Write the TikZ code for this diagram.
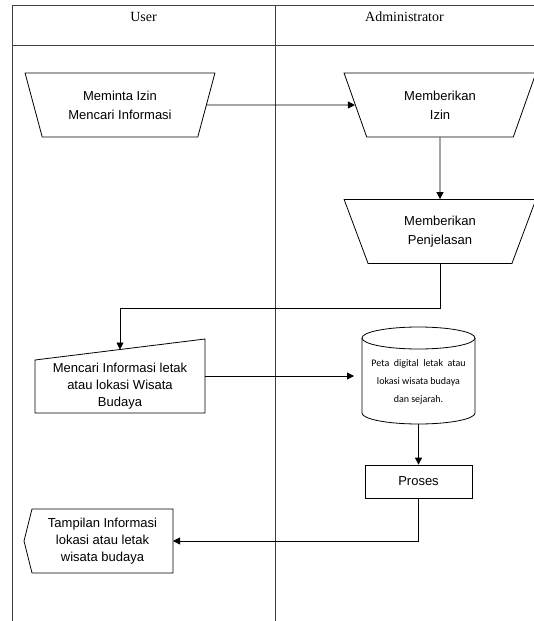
\documentclass[tikz,border=0pt]{standalone}
\usepackage{fontspec}
\setmainfont{Liberation Serif}
\newfontfamily\arialfont{Liberation Sans}
\newfontfamily\calfont{Carlito}
\usetikzlibrary{shapes.geometric, arrows.meta, calc}

\begin{document}
\begin{tikzpicture}[x=1pt, y=-1pt,
    lane/.style={draw=black!75, line width=0.8pt},
    lanetitle/.style={font=\fontsize{14}{16}\selectfont},
    flowtext/.style={font=\arialfont\fontsize{13}{17}\selectfont, align=center},
    flowline/.style={line width=0.8pt},
    flowarrow/.style={flowline, -{Triangle[length=7pt, width=7pt]}},
    manualop/.style={flowtext, draw, flowline, trapezium, shape border rotate=180,
        trapezium stretches=true, trapezium left angle=71, trapezium right angle=71,
        minimum width=190pt, minimum height=64pt, font=\arialfont\fontsize{13}{19}\selectfont},
    shapebox/.style={inner sep=0pt, outer sep=0pt},
    procbox/.style={flowtext, draw, flowline, minimum width=107pt, minimum height=33pt}]
    \useasboundingbox (0,0) rectangle (534,621);
    % swimlanes
    \draw[lane] (12,621) -- (12,5) -- (540,5);
    \draw[lane] (12,45) -- (540,45);
    \draw[lane] (275,5) -- (275,621);
    \node[lanetitle] (userLane) at (143.5,17) {User};
    \node[lanetitle] (adminLane) at (404.5,17) {Administrator};

    \node[manualop] (izinUser) at (120,105) {Meminta Izin\\Mencari Informasi};
    \node[manualop, minimum width=192pt] (izinAdmin) at (440,105) {Memberikan\\Izin};
    \node[manualop, minimum width=192pt] (jelas) at (440,231.5) {Memberikan\\Penjelasan};

    % manual input
    \node[shapebox, minimum width=170pt, minimum height=74pt,
        label={[flowtext, yshift=-10pt]center:{Mencari Informasi letak\\atau lokasi Wisata\\Budaya}}] (cari) at (120,376) {};
    \draw[flowline] (cari.south west) -- (cari.south east) -- (cari.north east)
        -- ([yshift=-21pt]cari.north west) -- cycle;
    \coordinate (cariTop) at ($([yshift=-21pt]cari.north west)!0.5!(cari.north east)$);

    % database
    \node[shapebox, minimum width=113pt, minimum height=97pt,
        label={[font=\calfont\fontsize{10}{18}\selectfont, align=center, yshift=-6pt]center:{Peta\ \ digital\ \ letak\ \ atau\\lokasi wisata budaya\\dan sejarah.}}] (peta) at (418.5,375.5) {};
    \draw[flowline] ([yshift=-11pt]peta.north west) -- ([yshift=11pt]peta.south west)
        arc[start angle=180, end angle=360, x radius=56.5pt, y radius=11pt]
        -- ([yshift=-11pt]peta.north east);
    \draw[flowline] ([yshift=-11pt]peta.north) ellipse [x radius=56.5pt, y radius=11pt];

    \node[procbox] (proses) at (418.5,481.5) {Proses};

    % display
    \node[shapebox, flowtext, minimum width=141pt, minimum height=64pt] (tampil) at (102.5,541) {Tampilan Informasi\\lokasi atau letak\\wisata budaya};
    \draw[flowline] (tampil.north west) -- (tampil.north east) -- (tampil.south east)
        -- (tampil.south west) -- ([xshift=-8pt]tampil.west) -- cycle;

    \draw[flowarrow] (izinUser.east) -- (izinAdmin.west);
    \draw[flowarrow] (izinAdmin.south) -- (jelas.north);
    \draw[flowarrow] (jelas.south) -- ++(0,44) -| (cariTop);
    \draw[flowarrow, shorten >=8pt] (cari.east) -- (cari.east -| peta.west);
    \draw[flowarrow] (peta.south) -- (proses.north);
    \draw[flowarrow] (proses.south) |- (tampil.east);
\end{tikzpicture}
\end{document}
